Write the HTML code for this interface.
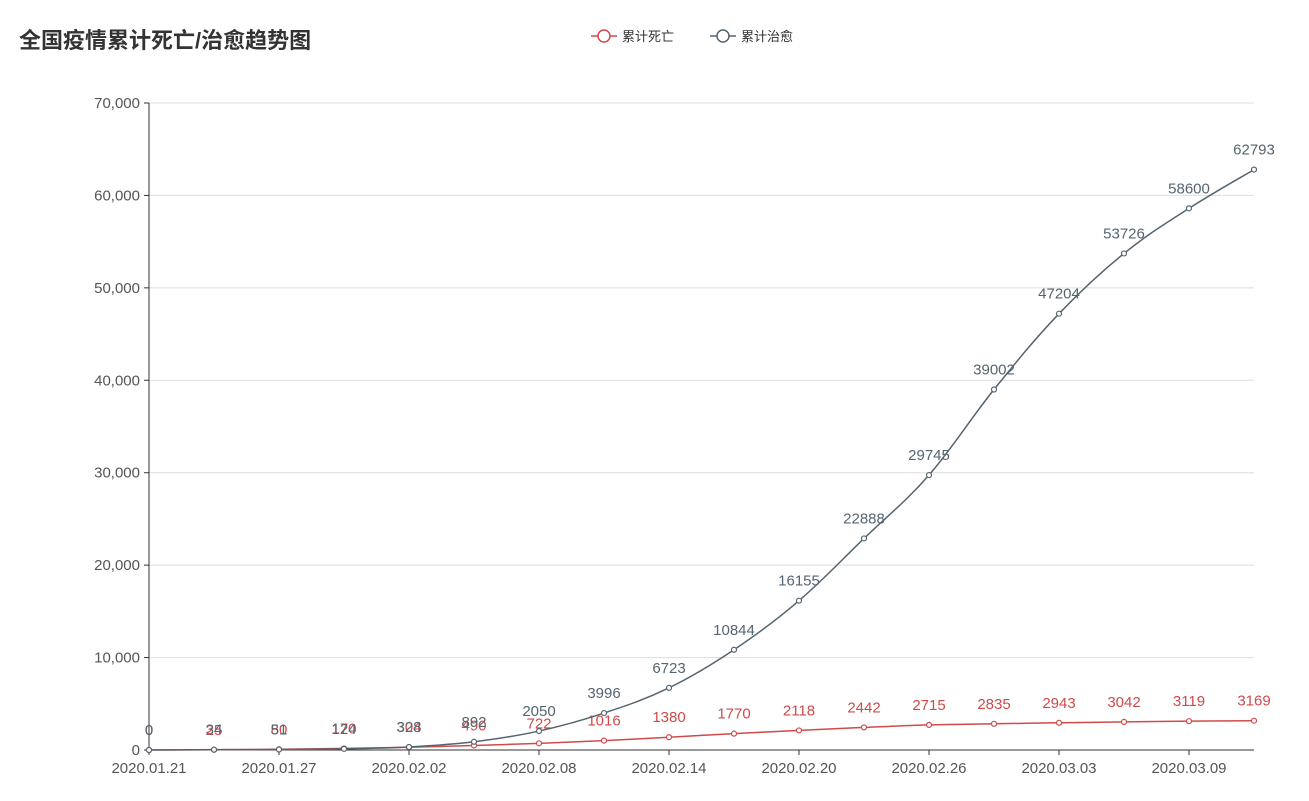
<!DOCTYPE html>
<html><head><meta charset="utf-8"><style>
body{margin:0;background:#fff;font-family:"Liberation Sans","Noto Sans CJK SC",sans-serif}
</style></head><body>
<svg width="1309" height="796" id="c" xmlns="http://www.w3.org/2000/svg">
<text x="19" y="48" font-size="22" font-weight="bold" fill="#333" font-family="Liberation Sans,Noto Sans CJK SC,sans-serif">全国疫情累计死亡/治愈趋势图</text>
<g>
<line x1="591" y1="36" x2="617" y2="36" stroke="#d14a4a" stroke-width="1.5"/><circle cx="604" cy="36" r="6" fill="#fff" stroke="#d14a4a" stroke-width="1.5"/>
<text x="622" y="41" font-size="13" fill="#333" font-family="Liberation Sans,Noto Sans CJK SC,sans-serif">累计死亡</text></g>
<g>
<line x1="710" y1="36" x2="736" y2="36" stroke="#546570" stroke-width="1.5"/><circle cx="723" cy="36" r="6" fill="#fff" stroke="#546570" stroke-width="1.5"/>
<text x="741" y="41" font-size="13" fill="#333" font-family="Liberation Sans,Noto Sans CJK SC,sans-serif">累计治愈</text></g>
<g id="grid"></g><g id="series"></g>
</svg>
<script>
const categories=["2020.01.21","2020.01.24","2020.01.27","2020.01.30","2020.02.02","2020.02.05","2020.02.08","2020.02.11","2020.02.14","2020.02.17","2020.02.20","2020.02.23","2020.02.26","2020.02.29","2020.03.03","2020.03.06","2020.03.09","2020.03.12"];
const deaths=[0,25,80,170,304,490,722,1016,1380,1770,2118,2442,2715,2835,2943,3042,3119,3169];
const cured=[0,34,51,124,328,892,2050,3996,6723,10844,16155,22888,29745,39002,47204,53726,58600,62793];
const yTicks=[0,10000,20000,30000,40000,50000,60000,70000];
const NS="http://www.w3.org/2000/svg";
const X0=149,X1=1254,Y0=750,Y1=103,YMAX=70000;
const xs=i=>X0+(X1-X0)*i/(categories.length-1);
const ys=v=>Y0-(Y0-Y1)*v/YMAX;
function mk(t,a,p){const e=document.createElementNS(NS,t);for(const k in a)e.setAttribute(k,a[k]);p.appendChild(e);return e;}
const g=document.getElementById('grid'),s=document.getElementById('series');
yTicks.forEach(v=>{
 const l=mk('line',{x1:X0,x2:X1,y1:ys(v),y2:ys(v),stroke:v===0?'#333':'#ddd'},g);
 
 
 mk('line',{x1:X0-5,x2:X0,y1:ys(v),y2:ys(v),stroke:'#333'},g);
 const t=mk('text',{x:X0-9,y:ys(v)+5,'text-anchor':'end','font-size':15,fill:'#555'},g);
 t.textContent=v.toLocaleString('en-US');
 
 
});
mk('line',{x1:X0,x2:X0,y1:Y1,y2:Y0,stroke:'#333'},g);
categories.forEach((c,i)=>{
 if(i%2) return;
 mk('line',{x1:xs(i),x2:xs(i),y1:Y0,y2:Y0+5,stroke:'#333'},g);
 const t=mk('text',{x:xs(i),y:Y0+23,'text-anchor':'middle','font-size':15,fill:'#555'},g);
 t.textContent=c;
 
 
});
function smooth(pts){
 let d=`M${pts[0][0]},${pts[0][1]}`;
 for(let i=0;i<pts.length-1;i++){
  const p0=pts[i-1]||pts[i],p1=pts[i],p2=pts[i+1],p3=pts[i+2]||p2,k=0.18;
  d+=` C${p1[0]+(p2[0]-p0[0])*k},${p1[1]+(p2[1]-p0[1])*k} ${p2[0]-(p3[0]-p1[0])*k},${p2[1]-(p3[1]-p1[1])*k} ${p2[0]},${p2[1]}`;
 }
 return d;
}
function series(vals,color,name){
 const pts=vals.map((v,i)=>[xs(i),ys(v)]);
 const p=mk('path',{d:smooth(pts),fill:'none',stroke:color,'stroke-width':1.5},s);
 
 
 pts.forEach((q,i)=>{
  const c=mk('circle',{cx:q[0],cy:q[1],r:2.5,fill:'#fff',stroke:color,'stroke-width':1.2},s);
  
  
  const t=mk('text',{x:q[0],y:q[1]-15,'text-anchor':'middle','font-size':15,fill:color},s);
  t.textContent=vals[i];
  
  
 });
}
series(deaths,'#d14a4a','death');
series(cured,'#546570','cured');
</script>
</body></html>
